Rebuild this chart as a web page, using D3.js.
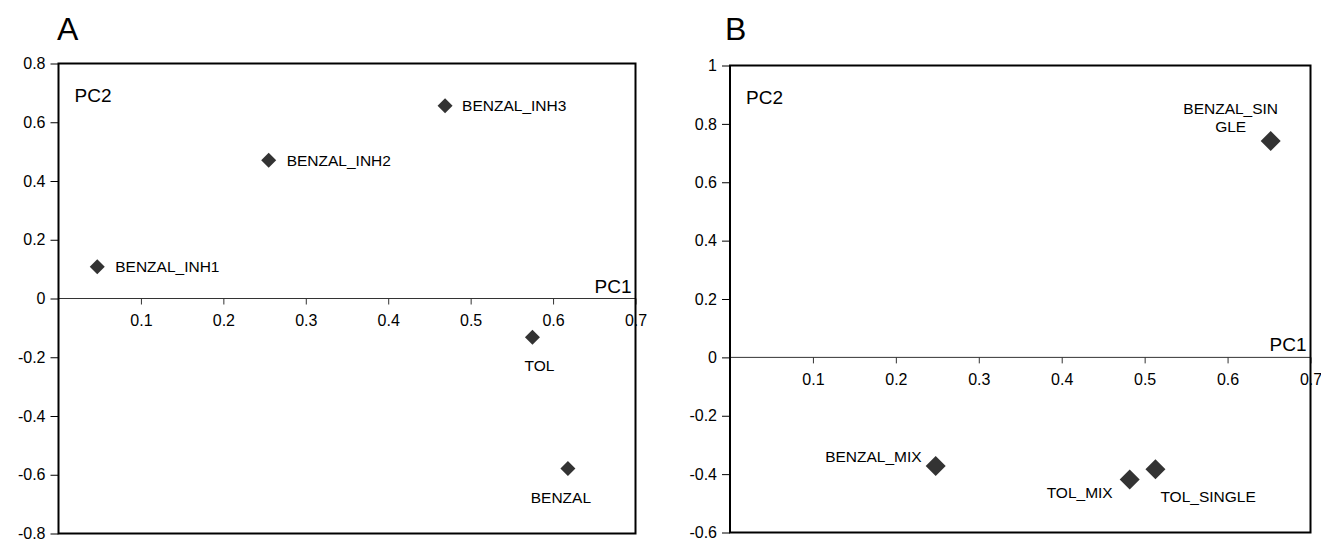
<!DOCTYPE html>
<html>
<head>
<meta charset="utf-8">
<script src="https://cdn.jsdelivr.net/npm/d3@7/dist/d3.min.js"></script>
<style>
  html, body { margin: 0; padding: 0; background: #fff; }
  svg { display: block; font-family: "Liberation Sans", Arial, sans-serif; }
</style>
</head>
<body>
<svg id="chart" width="1321" height="542"></svg>
<script>
// ---------- data ----------
const panelALabels = ["BENZAL_INH1", "BENZAL_INH2", "BENZAL_INH3", "TOL", "BENZAL"];
const panelAPC1 = [0.047, 0.255, 0.469, 0.575, 0.618];
const panelAPC2 = [0.108, 0.471, 0.656, -0.132, -0.579];

const panelBLabels = ["BENZAL_SINGLE", "BENZAL_MIX", "TOL_MIX", "TOL_SINGLE"];
const panelBPC1 = [0.652, 0.248, 0.482, 0.513];
const panelBPC2 = [0.741, -0.372, -0.418, -0.383];

const xTicks = [0.1, 0.2, 0.3, 0.4, 0.5, 0.6, 0.7];
const xTickLabels = ["0.1", "0.2", "0.3", "0.4", "0.5", "0.6", "0.7"];
const yTicksA = [0.8, 0.6, 0.4, 0.2, 0, -0.2, -0.4, -0.6, -0.8];
const yTickLabelsA = ["0.8", "0.6", "0.4", "0.2", "0", "-0.2", "-0.4", "-0.6", "-0.8"];
const yTicksB = [1, 0.8, 0.6, 0.4, 0.2, 0, -0.2, -0.4, -0.6];
const yTickLabelsB = ["1", "0.8", "0.6", "0.4", "0.2", "0", "-0.2", "-0.4", "-0.6"];

// ---------- label layout (styling, not data) ----------
const labelLayoutA = {
  "BENZAL_INH1": { anchor: "start", dx: 18, dy: 5.5 },
  "BENZAL_INH2": { anchor: "start", dx: 18, dy: 5.5 },
  "BENZAL_INH3": { anchor: "start", dx: 17, dy: 5.5 },
  "TOL":         { anchor: "middle", dx: 7, dy: 34 },
  "BENZAL":      { anchor: "middle", dx: -7, dy: 34 }
};
const labelLayoutB = {
  "BENZAL_SINGLE": { anchor: "middle", dx: -40, dy: -27, lines: ["BENZAL_SIN", "GLE"] },
  "BENZAL_MIX":    { anchor: "end", dx: -14, dy: -4 },
  "TOL_MIX":       { anchor: "end", dx: -17, dy: 19 },
  "TOL_SINGLE":    { anchor: "start", dx: 5, dy: 33 }
};

const svg = d3.select("#chart");
const FONT = "'Liberation Sans', Arial, sans-serif";

function drawPanel(cfg) {
  const x = d3.scaleLinear().domain([0, 0.7]).range([cfg.left, cfg.right]);
  const y = d3.scaleLinear().domain(cfg.yDomain).range([cfg.bottom, cfg.top]);
  const g = svg.append("g");

  // panel letter
  g.append("text").attr("x", cfg.letterX).attr("y", 40)
    .attr("font-size", 32).attr("fill", "#000").text(cfg.letter);

  // y axis (left)
  const yAxis = d3.axisLeft(y).tickValues(cfg.yTicks)
    .tickFormat((d, i) => cfg.yTickLabels[i]).tickSize(8).tickPadding(5);
  const ya = g.append("g").attr("transform", `translate(${cfg.left},0)`).call(yAxis);
  ya.select(".domain").remove();
  ya.selectAll(".tick line").attr("stroke", "#000").attr("stroke-width", 1);
  ya.selectAll(".tick text").attr("font-size", 16).attr("fill", "#000")
    .attr("font-family", FONT);

  // x axis at zero line
  const xAxis = d3.axisBottom(x).tickValues(xTicks)
    .tickFormat((d, i) => xTickLabels[i]).tickSize(6).tickPadding(10);
  const xa = g.append("g").attr("transform", `translate(0,${y(0)})`).call(xAxis);
  xa.select(".domain").attr("stroke", "#333").attr("stroke-width", 1)
    .attr("d", `M${cfg.left},0H${cfg.right}`);
  xa.selectAll(".tick line").attr("stroke", "#333").attr("stroke-width", 1);
  xa.selectAll(".tick text").attr("font-size", 16).attr("fill", "#000")
    .attr("font-family", FONT);

  // frame
  g.append("rect")
    .attr("x", cfg.left).attr("y", y(cfg.yDomain[1]))
    .attr("width", cfg.right - cfg.left)
    .attr("height", y(cfg.yDomain[0]) - y(cfg.yDomain[1]))
    .attr("fill", "none").attr("stroke", "#000").attr("stroke-width", 2);

  // axis titles
  g.append("text").attr("x", cfg.left + 16).attr("y", y(cfg.yDomain[1]) + 38)
    .attr("font-size", 19).attr("fill", "#000").text("PC2");
  g.append("text").attr("x", cfg.right - 4).attr("y", y(0) - 6)
    .attr("text-anchor", "end").attr("font-size", 19).attr("fill", "#000").text("PC1");

  // points
  const pts = cfg.labels.map((l, i) => ({ label: l, pc1: cfg.pc1[i], pc2: cfg.pc2[i] }));
  const s = cfg.markerHalf;
  g.selectAll("path.pt").data(pts).join("path")
    .attr("class", "pt")
    .attr("d", d => {
      const cx = x(d.pc1), cy = y(d.pc2);
      return `M${cx},${cy - s}L${cx + s},${cy}L${cx},${cy + s}L${cx - s},${cy}Z`;
    })
    .attr("fill", "#333");

  // labels
  pts.forEach(d => {
    const lay = cfg.layout[d.label];
    const t = g.append("text")
      .attr("x", x(d.pc1) + lay.dx).attr("y", y(d.pc2) + lay.dy)
      .attr("text-anchor", lay.anchor).attr("font-size", 15.5).attr("fill", "#000");
    if (lay.lines) {
      lay.lines.forEach((ln, k) => {
        t.append("tspan").attr("x", x(d.pc1) + lay.dx)
          .attr("dy", k === 0 ? 0 : 17.5).text(ln);
      });
    } else {
      t.text(d.label);
    }
  });
}

drawPanel({
  letter: "A", letterX: 57,
  left: 58.5, right: 635.5, top: 63.5, bottom: 533.5,
  yDomain: [-0.8, 0.8], yTicks: yTicksA, yTickLabels: yTickLabelsA,
  labels: panelALabels, pc1: panelAPC1, pc2: panelAPC2,
  layout: labelLayoutA, markerHalf: 7.5
});

drawPanel({
  letter: "B", letterX: 725,
  left: 730, right: 1310.5, top: 65.5, bottom: 532.5,
  yDomain: [-0.6, 1], yTicks: yTicksB, yTickLabels: yTickLabelsB,
  labels: panelBLabels, pc1: panelBPC1, pc2: panelBPC2,
  layout: labelLayoutB, markerHalf: 10
});
</script>
</body>
</html>
